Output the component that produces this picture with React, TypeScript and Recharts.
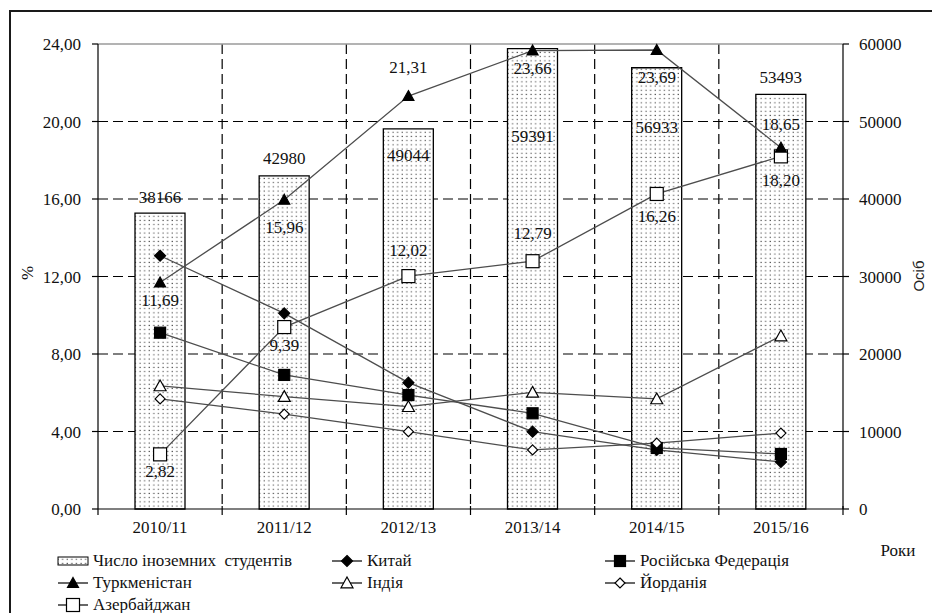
import React from "react";
import {
  ComposedChart,
  Bar,
  Line,
  XAxis,
  YAxis,
  CartesianGrid,
  LabelList,
  ReferenceLine,
} from "recharts";

const categories = ["2010/11", "2011/12", "2012/13", "2013/14", "2014/15", "2015/16"];
const students = [38166, 42980, 49044, 59391, 56933, 53493];
const turkmenistan = [11.69, 15.96, 21.31, 23.66, 23.69, 18.65];
const azerbaijan = [2.82, 9.39, 12.02, 12.79, 16.26, 18.2];
const china = [13.07, 10.1, 6.52, 3.99, 3.05, 2.43];
const russia = [9.1, 6.92, 5.88, 4.94, 3.15, 2.84];
const india = [6.35, 5.8, 5.28, 6.02, 5.68, 8.93];
const jordan = [5.68, 4.9, 3.99, 3.05, 3.4, 3.92];
const leftTicks = [0, 4, 8, 12, 16, 20, 24];
const rightTicks = [0, 10000, 20000, 30000, 40000, 50000, 60000];

const data = categories.map((c, i) => ({
  name: c,
  students: students[i],
  turkmenistan: turkmenistan[i],
  azerbaijan: azerbaijan[i],
  china: china[i],
  russia: russia[i],
  india: india[i],
  jordan: jordan[i],
}));

// label placement (vertical shift of text centre, px)
const barLabelDy = [-16, -17, 27, 88, 60, -17];
const turkLabelDy = [18, 28, -29, 18, 27, -23];
const azerLabelDy = [17, 18, -26, -28, 23, 24];

const W = 932;
const H = 613;
const M = { top: 44, right: 19, bottom: 74, left: 38 };
const LEFT_W = 60;
const RIGHT_W = 70;
const X_H = 30;
const PLOT_L = M.left + LEFT_W;
const PLOT_R = W - M.right - RIGHT_W;
const PLOT_B = H - M.bottom - X_H;
const CW = (PLOT_R - PLOT_L) / categories.length;

const SERIF = "'Liberation Serif', 'Times New Roman', serif";
const TXT = "#111";
const LINE = "#4d4d4d";

const fmt = (v: number) => v.toFixed(2).replace(".", ",");

type Shape = "tri" | "triOpen" | "dia" | "diaOpen" | "sq" | "sqOpen";

const Marker = ({ shape, cx, cy }: { shape: Shape; cx: number; cy: number }) => {
  const fill = shape.endsWith("Open") ? "#fff" : "#000";
  const s = { fill, stroke: "#000", strokeWidth: 1.2 };
  if (shape === "tri" || shape === "triOpen") {
    const r = shape === "tri" ? 5.5 : 6;
    return <path d={`M${cx},${cy - r} L${cx + r},${cy + r * 0.8} L${cx - r},${cy + r * 0.8} Z`} {...s} />;
  }
  if (shape === "dia" || shape === "diaOpen") {
    const r = shape === "dia" ? 5.5 : 5;
    return <path d={`M${cx},${cy - r} L${cx + r},${cy} L${cx},${cy + r} L${cx - r},${cy} Z`} {...s} />;
  }
  const r = shape === "sq" ? 5.5 : 6.5;
  return <rect x={cx - r} y={cy - r} width={r * 2} height={r * 2} {...s} />;
};

const dot = (shape: Shape) => (p: any) =>
  p.cx == null ? <g key={p.key} /> : <Marker key={p.key} shape={shape} cx={p.cx} cy={p.cy} />;

const lineLabel = (dys: number[]) => (p: any) => {
  const { x, y, value, index } = p;
  return (
    <text
      key={`l${index}`}
      x={x}
      y={y + dys[index]}
      textAnchor="middle"
      dominantBaseline="central"
      fontFamily={SERIF}
      fontSize={17}
      fill={TXT}
    >
      {fmt(Number(value))}
    </text>
  );
};

const barLabel = (p: any) => {
  const { x, y, width, value, index } = p;
  return (
    <text
      key={`b${index}`}
      x={x + width / 2}
      y={y + barLabelDy[index]}
      textAnchor="middle"
      dominantBaseline="central"
      fontFamily={SERIF}
      fontSize={17}
      fill={TXT}
    >
      {value}
    </text>
  );
};

const XTick = (p: any) => {
  const { x, payload, index } = p;
  return (
    <g>
      <line x1={x + CW / 2} x2={x + CW / 2} y1={PLOT_B - 3} y2={PLOT_B + 6} stroke="#000" strokeWidth={1.2} />
      {index === 0 && (
        <line x1={x - CW / 2} x2={x - CW / 2} y1={PLOT_B} y2={PLOT_B + 6} stroke="#000" strokeWidth={1.2} />
      )}
      <text
        x={x}
        y={PLOT_B + 18}
        textAnchor="middle"
        dominantBaseline="central"
        fontFamily={SERIF}
        fontSize={17}
        fill={TXT}
      >
        {payload.value}
      </text>
    </g>
  );
};

const legendItems: { label: string; shape: Shape | "bar" }[][] = [
  [
    { label: "Число іноземних  студентів", shape: "bar" },
    { label: "Китай", shape: "dia" },
    { label: "Російська Федерація", shape: "sq" },
  ],
  [
    { label: "Туркменістан", shape: "tri" },
    { label: "Індія", shape: "triOpen" },
    { label: "Йорданія", shape: "diaOpen" },
  ],
  [{ label: "Азербайджан", shape: "sqOpen" }],
];
const legendCols = [56, 330, 603];

const Pattern = ({ id }: { id: string }) => (
  <pattern id={id} width="4.6" height="4.2" patternUnits="userSpaceOnUse">
    <rect width="4.6" height="4.2" fill="#fff" />
    <rect x="1.5" y="1.5" width="1.1" height="1.1" fill="#3a3a3a" />
  </pattern>
);

const LegendIcon = ({ shape }: { shape: Shape | "bar" }) => (
  <svg width={34} height={16} style={{ display: "block" }}>
    <defs>
      <Pattern id="dotsLeg" />
    </defs>
    {shape === "bar" ? (
      <rect x={2} y={4} width={30} height={8} fill="url(#dotsLeg)" stroke="#000" strokeWidth={1} />
    ) : (
      <>
        <line x1={2} x2={32} y1={8} y2={8} stroke="#000" strokeWidth={1.2} />
        <Marker shape={shape} cx={17} cy={8} />
      </>
    )}
  </svg>
);

export default function App() {
  return (
    <div style={{ position: "absolute", left: 0, top: 0, width: W, height: H, overflow: "hidden", background: "#fff", fontFamily: SERIF }}>
      <div
        style={{
          position: "absolute",
          left: 9,
          top: 10,
          width: W + 20,
          height: H + 20,
          border: "2px solid #1a1a1a",
        }}
      />
      <div style={{ position: "absolute", left: 0, top: 0 }}>
        <ComposedChart width={W} height={H} data={data} margin={M}>
          <defs>
            <Pattern id="dots" />
          </defs>
          <CartesianGrid
            stroke="#000"
            strokeWidth={1.2}
            strokeDasharray="10 5"
            horizontalCoordinatesGenerator={({ offset }: any) =>
              [1, 2, 3, 4, 5].map((i) => offset.top + (offset.height * i) / 6)
            }
            verticalCoordinatesGenerator={({ offset }: any) =>
              [1, 2, 3, 4, 5].map((i) => offset.left + (offset.width * i) / 6)
            }
          />
          <XAxis
            dataKey="name"
            height={X_H}
            axisLine={{ stroke: "#000", strokeWidth: 1.2 }}
            tickLine={false}
            tick={<XTick />}
            interval={0}
          />
          <YAxis
            yAxisId="left"
            width={LEFT_W}
            domain={[0, 24]}
            ticks={leftTicks}
            tickFormatter={(v: number) => fmt(v)}
            axisLine={{ stroke: "#000", strokeWidth: 1.2 }}
            tickLine={{ stroke: "#000", strokeWidth: 1.2 }}
            tickSize={6}
            tickMargin={11}
            tick={{ fontFamily: SERIF, fontSize: 17, fill: TXT }}
          />
          <YAxis
            yAxisId="right"
            orientation="right"
            width={RIGHT_W}
            domain={[0, 60000]}
            ticks={rightTicks}
            axisLine={{ stroke: "#000", strokeWidth: 1.2 }}
            tickLine={{ stroke: "#000", strokeWidth: 1.2 }}
            tickSize={6}
            tickMargin={10}
            tick={{ fontFamily: SERIF, fontSize: 17, fill: TXT, textAnchor: "start" }}
          />
          <ReferenceLine yAxisId="left" y={24} stroke="#9a9a9a" strokeWidth={1.5} />
          <Bar
            yAxisId="right"
            dataKey="students"
            barSize={50}
            fill="url(#dots)"
            stroke="#000"
            strokeWidth={1.3}
            isAnimationActive={false}
          >
            <LabelList dataKey="students" content={barLabel} />
          </Bar>
          <Line yAxisId="left" dataKey="china" stroke={LINE} strokeWidth={1.3} dot={dot("dia")} isAnimationActive={false} />
          <Line yAxisId="left" dataKey="russia" stroke={LINE} strokeWidth={1.3} dot={dot("sq")} isAnimationActive={false} />
          <Line yAxisId="left" dataKey="india" stroke={LINE} strokeWidth={1.3} dot={dot("triOpen")} isAnimationActive={false} />
          <Line yAxisId="left" dataKey="jordan" stroke={LINE} strokeWidth={1.3} dot={dot("diaOpen")} isAnimationActive={false} />
          <Line yAxisId="left" dataKey="azerbaijan" stroke={LINE} strokeWidth={1.3} dot={dot("sqOpen")} isAnimationActive={false}>
            <LabelList dataKey="azerbaijan" content={lineLabel(azerLabelDy)} />
          </Line>
          <Line yAxisId="left" dataKey="turkmenistan" stroke={LINE} strokeWidth={1.3} dot={dot("tri")} isAnimationActive={false}>
            <LabelList dataKey="turkmenistan" content={lineLabel(turkLabelDy)} />
          </Line>
        </ComposedChart>
      </div>
      <svg width={W} height={H} style={{ position: "absolute", left: 0, top: 0, pointerEvents: "none" }}>
        <text x={27} y={273} transform="rotate(-90 27 273)" textAnchor="middle" dominantBaseline="central" fontFamily={SERIF} fontSize={17} fill={TXT}>
          %
        </text>
        <text x={918} y={276} transform="rotate(-90 918 276)" textAnchor="middle" dominantBaseline="central" fontFamily="'Liberation Sans', Arial, sans-serif" fontSize={15} fill="#222">
          Осіб
        </text>
        <text x={898} y={550} textAnchor="middle" dominantBaseline="central" fontFamily={SERIF} fontSize={17} fill={TXT}>
          Роки
        </text>
      </svg>
      {legendItems.map((row, r) =>
        row.map((it, c) => (
          <div
            key={`${r}-${c}`}
            style={{
              position: "absolute",
              left: legendCols[c],
              top: 550 + r * 22,
              display: "flex",
              alignItems: "center",
              fontFamily: SERIF,
              fontSize: 17,
              color: TXT,
              whiteSpace: "pre",
              lineHeight: "22px",
            }}
          >
            <LegendIcon shape={it.shape} />
            <span style={{ marginLeft: 3 }}>{it.label}</span>
          </div>
        ))
      )}
    </div>
  );
}
